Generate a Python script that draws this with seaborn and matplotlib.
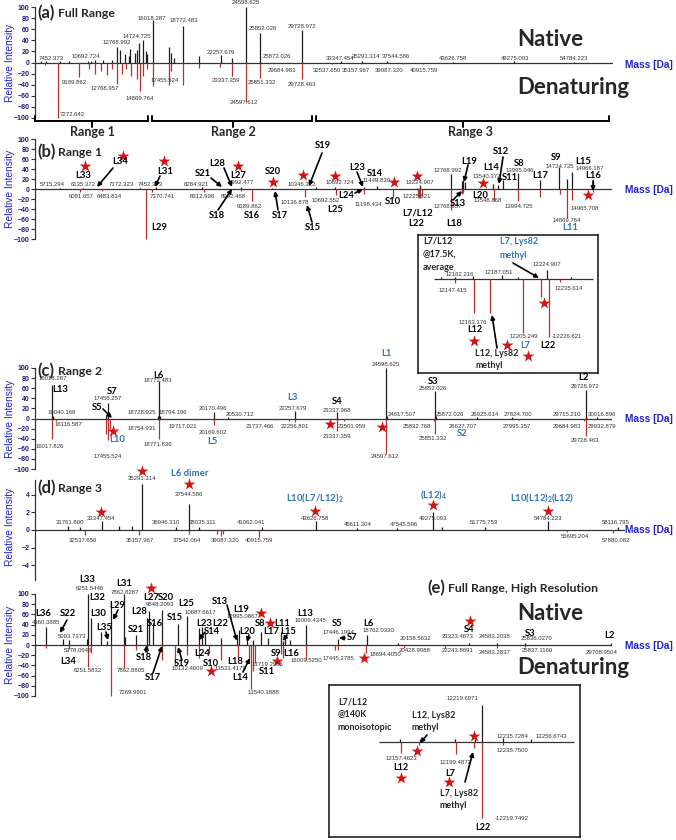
import matplotlib
matplotlib.use("Agg")
import matplotlib.pyplot as plt
import seaborn as sns

W, H = 676, 840

# ---------------- peak data (mass in Da, relative intensity) ----------------
# (a) full range
a_nat_mass = [5715, 6135, 7452, 8285, 9993, 10346, 10692, 11449, 12225, 12740, 13000, 13460, 13770,
              13940, 14400, 14560, 14724, 15110, 15360, 15480, 16018, 17456, 17660, 18000, 18772,
              20284, 22257, 23338, 24598, 25852, 25872, 29728, 33347, 35291, 37544, 43626, 49275, 54784]
a_nat_int = [2, 2, 3, 2, 3, 3, 4, 4, 4, 28, 22, 15, 12, 25, 17, 22, 35, 40, 20, 15, 76, 28, 18, 8,
             66, 12, 14, 8, 100, 53, 3, 59, 2, 3, 2, 1.5, 2, 1.5]
a_den_mass = [6082, 7272, 9190, 10160, 10683, 11205, 11758, 12220, 12740, 13140, 13540, 13970, 14523,
              14870, 15077, 15446, 16018, 17455, 17670, 18772, 20284, 22220, 23337, 24598, 25851,
              29728, 32537, 35158, 39087, 40916]
a_den_int = [-4, -100, -27, -12, -20, -15, -22, -12, -38, -20, -12, -25, -30, -52, -25, -12, -42, -40,
             -15, -40, -10, -8, -25, -72, -28, -30, -2, -2, -2, -2]

# (b) range 1
b_nat_mass = [5715, 6135, 7172, 7452, 8285, 8992, 9550, 10346, 10692, 11198, 11449, 12162, 12225,
              12769, 12970, 13000, 13030, 13541, 13632, 13722, 13995, 14384, 14725, 14876, 14966, 15346]
b_nat_int = [3, 3, 3, 4, 4, 4, 3, 4, 4, 4, 7, 3, 8, 30, 16, 18, 15, 10, 8, 18, 32, 18, 45, 20, 35, 18]
b_den_mass = [6082, 6484, 7272, 7371, 8313, 8990, 9190, 10137, 10693, 11198, 11736, 12182, 12205,
              12226, 12254, 12769, 12970, 13000, 13549, 13995, 14384, 14745, 14870, 14966, 15346]
b_den_int = [-5, -3, -100, -5, -5, -4, -24, -15, -12, -10, -17, -15, -18, -18, -14, -42, -10, -8, -24,
             -24, -15, -10, -58, -22, -5]
b_star_mass = [6171, 6857, 7597, 8933, 9564, 10106, 10683, 11748, 12164, 13355, 15250]
b_star_int = [46, 66, 56, 46, 14, 28, 26, 14, 26, 12, -12]

# (b) inset, L7/L12 at 17.5K
bi_nat_mass = [12135, 12147, 12162, 12187, 12200, 12225, 12245]
bi_nat_int = [2, 2, 3, 4, 2, 9, 2]
bi_den_mass = [12147, 12163, 12177, 12205, 12220, 12227, 12236]
bi_den_int = [-4, -34, -34, -54, -18, -58, -3]
bi_star_mass = [12163, 12191, 12209, 12222]
bi_star_int = [-62, -66, -77, -24]

# (c) range 2
c_nat_mass = [16018, 16040, 17400, 17456, 18729, 18772, 18794, 20170, 20531, 22258, 23338, 24598,
              24618, 25852, 25872, 26926, 27825, 29715, 29729, 30017]
c_nat_int = [67, 4, 6, 30, 4, 74, 4, 12, 3, 14, 12, 100, 4, 54, 4, 2, 2, 3, 56, 3]
c_den_mass = [16018, 16117, 17400, 17456, 17520, 18755, 18772, 19717, 20170, 21737, 22100, 22257,
              23337, 23502, 24598, 25833, 25851, 26628, 27995, 29685, 29728, 29933]
c_den_int = [-40, -4, -30, -43, -20, -4, -40, -3, -13, -3, -5, -6, -24, -4, -70, -4, -30, -3, -3,
             -4, -34, -3]
c_star_mass = [17584, 23154, 24489]
c_star_int = [-24, -10, -16]

# (d) range 3
d_nat_mass = [31762, 32300, 33347, 34200, 34800, 35291, 36946, 37545, 38035, 41062, 43627, 45611,
              47546, 49275, 49700, 51776, 54784, 58117]
d_nat_int = [0.4, 0.3, 1.0, 0.4, 0.5, 5.3, 0.3, 3.0, 0.3, 0.3, 1.0, 0.2, 0.2, 2.1, 0.3, 0.3, 1.0, 0.3]
d_den_mass = [32538, 35158, 37542, 38900, 39087, 39200, 40916, 55695, 57880]
d_den_int = [-0.6, -0.6, -0.4, -0.4, -0.7, -0.5, -0.8, -0.2, -0.3]
d_star_mass = [35291, 37547, 33323, 43595, 49259, 54779]
d_star_int = [6.7, 5.3, 2.1, 2.2, 2.9, 2.2]

# (e) full range, high resolution
e_nat_mass = [4360, 5094, 5385, 6206, 6252, 6359, 6821, 7077, 7270, 7863, 7898, 8378, 8872, 8975,
              9168, 9548, 10263, 10688, 11233, 11368, 11489, 12193, 12939, 12995, 13387, 13657,
              14002, 14331, 14900, 15003, 15079, 15303, 16009, 17446, 18762, 20159, 23323, 24583,
              25836, 29709]
e_nat_int = [36, 11, 10, 12, 100, 53, 25, 8, 85, 100, 15, 20, 53, 66, 43, 68, 41, 56, 33, 36, 23, 13,
             16, 30, 13, 10, 26, 13, 26, 8, 12, 10, 39, 12, 20, 3, 3, 4, 3, 3]
e_den_mass = [4338, 5378, 6252, 6359, 7270, 7863, 8378, 8872, 9548, 10132, 10695, 11233, 11683,
              12193, 12983, 13477, 13540, 13657, 13719, 14900, 15003, 16010, 17323, 17445, 18694,
              20429, 22244, 24583, 25837]
e_den_int = [-5, -8, -43, -15, -100, -45, -10, -18, -30, -37, -20, -25, -15, -30, -28, -30, -86, -50,
             -35, -18, -25, -30, -10, -10, -15, -5, -5, -5, -3]
e_star_mass = [9065, 14002, 14406, 14720, 11758, 18625, 23382]
e_star_int = [112, 63, 43, -31, -51, -25, 47]

# (e) inset, L7/L12 at 140K
ei_nat_mass = [12157, 12172, 12199, 12214, 12219.7, 12236, 12257]
ei_nat_int = [3, 3, 3, 3, 37, 4, 3]
ei_den_mass = [12157.5, 12171.5, 12199.5, 12213.5, 12219.75, 12235.75]
ei_den_int = [-11, -3, -12, -6, -76, -3]
ei_star_mass = [12169.8, 12213.6, 12157.5, 12194.4]
ei_star_int = [-9, 6, -36, -40]

# ---------------- peak labels (text, x px, y px) ----------------
a_mass_labels = [
    ("7452.373", 51, 58), ("10692.724", 86, 57), ("12768.992", 117, 43), ("14724.725", 137, 36),
    ("16018.287", 152, 19), ("18772.483", 184, 21), ("22257.679", 221, 52), ("24598.625", 246, 3),
    ("25852.026", 263, 29), ("25872.026", 277, 57), ("29728.972", 302, 26), ("33347.454", 340, 58),
    ("35291.314", 366, 56), ("37544.586", 396, 56), ("43626.758", 453, 58), ("49275.093", 515, 58),
    ("54784.223", 574, 58),
    ("7272.642", 72, 115), ("9189.862", 74, 82), ("12768.957", 105, 88), ("14869.764", 140, 98),
    ("17455.524", 165, 81), ("23337.359", 226, 81), ("24597.612", 244, 102), ("25851.332", 262, 83),
    ("29684.983", 282, 70), ("29728.463", 302, 85), ("32537.650", 327, 70), ("35157.967", 356, 71),
    ("39087.320", 389, 71), ("40915.759", 424, 71)]

b_mass_labels = [
    ("5715.294", 52, 185), ("6135.372", 83, 185), ("7172.323", 121, 185), ("7452.373", 150, 185),
    ("8284.921", 196, 185), ("8992.477", 241, 183), ("10346.322", 302, 185), ("10692.724", 340, 183),
    ("6081.657", 81, 196), ("6483.834", 109, 196), ("7370.741", 162, 197), ("8312.998", 202, 196),
    ("8992.468", 233, 196), ("9189.862", 249, 206), ("10136.878", 295, 202), ("10692.552", 326, 201),
    ("11449.839", 377, 180), ("11198.434", 368, 205), ("12224.907", 420, 183), ("12225.621", 417, 196),
    ("12768.992", 448, 171), ("12768.957", 448, 206), ("13540.372", 487, 177), ("13548.868", 488, 200),
    ("13995.046", 520, 171), ("13994.725", 519, 207), ("14724.725", 560, 166), ("14966.187", 590, 168),
    ("14869.764", 567, 221), ("14965.708", 585, 208)]

bi_mass_labels = [
    ("12162.216", 460, 274), ("12187.051", 499, 272), ("12224.907", 547, 264), ("12147.415", 453, 291),
    ("12235.614", 569, 288), ("12163.176", 473, 322), ("12205.249", 524, 336), ("-12226.621", 567, 337)]

c_mass_labels = [
    ("16018.287", 53, 379), ("16040.168", 62, 412), ("16116.587", 68, 425), ("16017.826", 50, 447),
    ("17456.257", 108, 399), ("17455.524", 108, 457), ("18772.483", 158, 381), ("18728.925", 142, 412),
    ("18794.196", 173, 412), ("18754.931", 142, 428), ("18771.836", 158, 445), ("19717.021", 183, 427),
    ("20170.496", 213, 408), ("20169.602", 213, 432), ("20530.712", 240, 414), ("21737.466", 260, 427),
    ("22257.679", 293, 409), ("22256.801", 295, 427), ("23337.968", 337, 411), ("23501.959", 352, 426),
    ("23337.359", 337, 436), ("24598.625", 386, 364), ("24617.507", 402, 415), ("24597.612", 385, 457),
    ("25852.026", 433, 389), ("25872.026", 450, 414), ("25832.768", 417, 427), ("25851.332", 433, 439),
    ("26925.614", 485, 415), ("26627.707", 463, 426), ("27824.700", 518, 415), ("27995.357", 517, 426),
    ("29715.210", 567, 415), ("29684.983", 567, 427), ("29728.972", 585, 387), ("30016.896", 602, 415),
    ("29932.879", 602, 427), ("29728.463", 585, 441)]

d_mass_labels = [
    ("35291.314", 142, 478), ("37544.586", 189, 494), ("31761.800", 70, 522), ("33347.454", 101, 519),
    ("36946.310", 166, 523), ("38035.111", 203, 522), ("41062.041", 251, 523), ("43626.758", 315, 518),
    ("45611.304", 358, 524), ("47545.596", 404, 524), ("49275.093", 433, 519), ("51775.753", 484, 523),
    ("54784.223", 548, 518), ("58116.795", 616, 522), ("32537.650", 83, 540), ("35157.967", 140, 540),
    ("37542.064", 187, 540), ("39087.320", 225, 541), ("40915.759", 259, 541), ("55695.204", 575, 536),
    ("57880.082", 616, 541)]

e_mass_labels = [
    ("4360.3885", 46, 623), ("5093.7373", 72, 636), ("5378.0648", 78, 651), ("6251.5446", 90, 589),
    ("6251.5832", 88, 671), ("7862.8287", 125, 592), ("7862.8805", 131, 670), ("7269.9901", 133, 692),
    ("9548.2093", 160, 604), ("10132.4609", 187, 669), ("10687.6617", 200, 612), ("12995.0867", 242, 617),
    ("13531.4179", 230, 669), ("13719.2966", 267, 665), ("13540.3888", 263, 692), ("16009.4345", 310, 621),
    ("16009.5250", 306, 661), ("17446.1994", 338, 632), ("17445.2785", 338, 658), ("18762.0330", 378, 631),
    ("18694.4050", 385, 655), ("20158.5632", 415, 639), ("20428.9988", 415, 650), ("23323.4673", 458, 637),
    ("22243.8691", 458, 651), ("24583.2038", 495, 637), ("24583.2837", 495, 652), ("25836.0270", 537, 639),
    ("25837.1160", 537, 650), ("29708.9504", 602, 653)]

ei_mass_labels = [
    ("12219.6971", 462, 698), ("12235.7284", 512, 736), ("12256.6743", 551, 736), ("12235.7500", 512, 751),
    ("12157.4623", 401, 759), ("12199.4872", 456, 763), ("-12219.7492", 512, 818)]

# ---------------- protein assignments ----------------
b_tags = [("L33", 83, 175), ("L34", 120, 162), ("L31", 165, 171), ("L29", 159, 228), ("S21", 203, 173),
          ("L28", 217, 164), ("L27", 238, 176), ("S18", 217, 216), ("S16", 252, 216), ("S20", 273, 172),
          ("S17", 280, 216), ("S19", 323, 146), ("S15", 313, 228), ("L25", 335, 210), ("L23", 357, 167),
          ("L24", 346, 195), ("S14", 375, 174), ("S10", 393, 202), ("L7/L12", 418, 213), ("L22", 416, 223),
          ("L18", 454, 224), ("S13", 458, 204), ("L19", 469, 161), ("L14", 491, 168), ("L20", 480, 196),
          ("S12", 501, 152), ("S11", 510, 177), ("S8", 519, 164), ("L17", 540, 176), ("S9", 556, 157),
          ("L15", 583, 162), ("L16", 593, 176)]
b_blue_tags = [("L11", 570, 227)]
b_arrows = [(113, 168, 97, 187), (160, 176, 155, 187), (211, 178, 222, 187), (224, 168, 232, 187),
            (218, 210, 232, 189), (278, 210, 275, 191), (322, 153, 309, 186), (312, 222, 307, 205),
            (357, 172, 363, 187), (355, 193, 363, 189), (453, 200, 462, 191), (468, 165, 464, 182),
            (503, 157, 499, 184), (593, 181, 593, 191), (513, 263, 539, 278), (497, 348, 492, 315)]

c_tags = [("L13", 60, 389), ("S7", 112, 392), ("S5", 97, 408), ("L6", 158, 375), ("S4", 337, 401),
          ("S3", 433, 382), ("L2", 583, 378)]
c_blue_tags = [("L10", 117, 440), ("L5", 212, 441), ("L3", 292, 398), ("L1", 386, 353), ("S2", 462, 434)]
c_arrows = [(103, 409, 112, 418)]

d_blue_tags = [("L6 dimer", 190, 474), ("L10(L7/L12)$_2$", 315, 498), ("(L12)$_4$", 433, 495),
               ("L10(L12)$_2$(L12)", 542, 498)]

e_tags = [("L36", 43, 614), ("S22", 68, 614), ("L34", 68, 662), ("L33", 87, 580), ("L32", 97, 597),
          ("L30", 98, 614), ("L35", 104, 627), ("L29", 117, 605), ("L31", 124, 583), ("L27", 151, 598),
          ("S20", 166, 598), ("L28", 139, 612), ("S16", 155, 623), ("S21", 136, 629), ("L25", 186, 603),
          ("S15", 175, 617), ("S13", 220, 601), ("L19", 241, 609), ("L23", 204, 623), ("L22", 220, 623),
          ("S14", 212, 632), ("L20", 247, 631), ("S8", 260, 623), ("L11", 282, 623), ("L17", 271, 632),
          ("L15", 288, 632), ("L13", 305, 614), ("S18", 144, 657), ("S17", 153, 678), ("S19", 182, 664),
          ("L24", 202, 654), ("S10", 211, 663), ("L18", 235, 661), ("L14", 240, 677), ("S11", 267, 672),
          ("S9", 276, 653), ("L16", 291, 654), ("S5", 337, 623), ("S7", 352, 637), ("L6", 368, 623),
          ("S4", 469, 630), ("S3", 530, 633), ("L2", 609, 635)]
e_arrows = [(67, 620, 60, 633), (106, 632, 108, 640), (118, 610, 113, 620), (227, 605, 237, 641),
            (205, 632, 199, 640), (249, 635, 247, 642), (287, 635, 283, 641), (146, 652, 147, 645),
            (153, 673, 162, 646), (182, 660, 178, 647), (243, 672, 250, 658), (345, 638, 339, 638),
            (427, 735, 420, 743), (465, 782, 473, 752)]

NAT = "#1e1e1e"
DEN = "#b3312f"
STAR = "#d11414"
BLUE_TAG = "#2e75b6"
AXIS_BLUE = "#2323c8"
TICK_BLUE = "#1f1f7a"
LABEL_FONT = ["Lato", "DejaVu Sans"]
MASS_FONT = ["Liberation Sans", "DejaVu Sans"]

sns.set_theme(style="white")
plt.rcParams["font.family"] = MASS_FONT
plt.rcParams["mathtext.default"] = "regular"

fig = plt.figure(figsize=(W / 100, H / 100), dpi=100)


def px_axes(x0, x1, y0, y1, **kw):
    # axes placed by pixel box (y measured from the top)
    return fig.add_axes([x0 / W, 1 - y1 / H, (x1 - x0) / W, (y1 - y0) / H], **kw)


def draw_peaks(ax, nat_m, nat_i, den_m, den_i, star_m, star_i):
    ax.vlines(nat_m, 0, nat_i, color=NAT, lw=0.9, clip_on=False)
    ax.vlines(den_m, 0, den_i, color=DEN, lw=0.9, clip_on=False)
    sns.scatterplot(x=star_m, y=star_i, marker="*", s=80, color=STAR, linewidth=0,
                    ax=ax, clip_on=False, zorder=6, legend=False)


def spectrum(box, xlim, ylim, yticks, nat_m, nat_i, den_m, den_i, star_m, star_i):
    ax = px_axes(*box)
    ax.patch.set_alpha(0)
    ax.set_xlim(xlim)
    ax.set_ylim(ylim)
    ax.axhline(0, color="#333333", lw=0.9)
    draw_peaks(ax, nat_m, nat_i, den_m, den_i, star_m, star_i)
    for s in ["top", "right", "bottom"]:
        ax.spines[s].set_visible(False)
    ax.spines["left"].set_color("#333333")
    ax.spines["left"].set_linewidth(0.9)
    ax.set_xticks([])
    ax.set_yticks(yticks)
    ax.tick_params(axis="y", left=True, direction="out", length=3, width=0.8,
                   color="#333333", labelsize=5, labelcolor=TICK_BLUE, pad=1)
    for lab in ax.get_yticklabels():
        lab.set_fontweight("bold")
    ax.set_xlabel("")
    ax.set_ylabel("")
    return ax


def inset(box, xlim, ylim, span, nat_m, nat_i, den_m, den_i, star_m, star_i):
    ax = px_axes(*box, zorder=5)
    ax.set_facecolor("white")
    ax.set_xlim(xlim)
    ax.set_ylim(ylim)
    ax.hlines(0, span[0], span[1], color="#333333", lw=0.9)
    draw_peaks(ax, nat_m, nat_i, den_m, den_i, star_m, star_i)
    ax.set_xticks([])
    ax.set_yticks([])
    for s in ax.spines.values():
        s.set_visible(True)
        s.set_color("#222222")
        s.set_linewidth(1.2)
    return ax


rng100 = list(range(-100, 101, 20))
spectrum((35, 613, 7, 118), (5152, 58416), (-100, 100), rng100,
         a_nat_mass, a_nat_int, a_den_mass, a_den_int, [], [])
spectrum((35, 612, 139, 239), (5268, 15683), (-100, 100), rng100,
         b_nat_mass, b_nat_int, b_den_mass, b_den_int, b_star_mass, b_star_int)
spectrum((35, 612, 368, 469), (15582, 30394), (-100, 100), rng100,
         c_nat_mass, c_nat_int, c_den_mass, c_den_int, c_star_mass, c_star_int)
spectrum((35, 625, 480, 580), (30155, 58475), (-5.7, 5.7), [-4, -2, 0, 2, 4],
         d_nat_mass, d_nat_int, d_den_mass, d_den_int, d_star_mass, d_star_int)
spectrum((35, 612, 594, 696), (3859, 29753), (-100, 100), rng100,
         e_nat_mass, e_nat_int, e_den_mass, e_den_int, e_star_mass, e_star_int)

inset((418, 598, 235, 373), (12115.8, 12268.1), (-94, 44), (12129.3, 12263.9),
      bi_nat_mass, bi_nat_int, bi_den_mass, bi_den_int, bi_star_mass, bi_star_int)
inset((329, 580, 685, 837), (12102.2, 12295.0), (-95, 57), (12140.6, 12290.4),
      ei_nat_mass, ei_nat_int, ei_den_mass, ei_den_int, ei_star_mass, ei_star_int)

# overlay in pixel coordinates for all annotation text
ov = fig.add_axes([0, 0, 1, 1], zorder=20)
ov.set_xlim(0, W)
ov.set_ylim(H, 0)
ov.set_axis_off()


def mass_labels(items):
    for t, x, y in items:
        ov.text(x, y, t, fontsize=4.3, color="#333333", ha="center", va="center", family=MASS_FONT)


def tags(items, color="black", size=6.8):
    for t, x, y in items:
        ov.text(x, y, t, fontsize=size, fontweight="bold", color=color, ha="center", va="center",
                family=LABEL_FONT)


def arrows(items):
    for x0, y0, x1, y1 in items:
        ov.annotate("", xy=(x1, y1), xytext=(x0, y0),
                    arrowprops=dict(arrowstyle="-|>", color="black", lw=1.2, mutation_scale=6,
                                    shrinkA=0, shrinkB=0))


for lab_list in [a_mass_labels, b_mass_labels, bi_mass_labels, c_mass_labels, d_mass_labels,
                 e_mass_labels, ei_mass_labels]:
    mass_labels(lab_list)
tags(b_tags)
tags(c_tags)
tags(e_tags)
tags(b_blue_tags, BLUE_TAG)
tags(c_blue_tags, BLUE_TAG)
tags(d_blue_tags, BLUE_TAG)
arrows(b_arrows)
arrows(c_arrows)
arrows(e_arrows)

# inset texts
for t, x, y in [("L7/L12", 423, 241), ("@17.5K,", 423, 254), ("average", 423, 268),
                ("L12, Lys82", 475, 354), ("methyl", 475, 366),
                ("L7/L12", 338, 702), ("@140K", 338, 714), ("monoisotopic", 338, 727),
                ("L12, Lys82", 412, 715), ("methyl", 412, 728),
                ("L7, Lys82", 440, 793), ("methyl", 440, 806)]:
    ov.text(x, y, t, fontsize=6.5, fontweight="bold", ha="left", va="center", family=LABEL_FONT)
for t, x, y in [("L7, Lys82", 500, 242), ("methyl", 500, 255)]:
    ov.text(x, y, t, fontsize=6.5, fontweight="bold", color=BLUE_TAG, ha="left", va="center",
            family=LABEL_FONT)
tags([("L12", 475, 330), ("L22", 548, 345), ("L12", 401, 767), ("L7", 450, 773), ("L22", 483, 828)],
     size=6.5)
tags([("L7", 525, 345)], BLUE_TAG, size=6.5)

# panel titles
for tag, name, x, y in [("(a)", "Full Range", 37, 13), ("(b)", "Range 1", 37, 152),
                        ("(c)", "Range 2", 37, 371), ("(d)", "Range 3", 37, 488),
                        ("(e)", "Full Range, High Resolution", 427, 588)]:
    ov.text(x, y, tag, fontsize=12, fontweight="bold", ha="left", va="center", family=LABEL_FONT)
    ov.text(x + 21, y + 0.5, name, fontsize=8.8, fontweight="bold", ha="left", va="center",
            family=LABEL_FONT)

for y_top, y_bot in [(40, 88), (613, 668)]:
    ov.text(517, y_top, "Native", fontsize=16, fontweight="bold", ha="left", va="center",
            family=LABEL_FONT)
    ov.text(517, y_bot, "Denaturing", fontsize=16, fontweight="bold", ha="left", va="center",
            family=LABEL_FONT)

for yc in [63, 189, 419, 527, 645]:
    ov.text(10, yc, "Relative Intensity", fontsize=7.4, color=AXIS_BLUE, rotation=90,
            ha="center", va="center", family=MASS_FONT)
for yc in [65, 190, 419, 530, 646]:
    ov.text(649, yc, "Mass [Da]", fontsize=7.3, fontweight="bold", color=AXIS_BLUE,
            ha="center", va="center", family=MASS_FONT)

# range brackets under panel (a)
for x0, xm, x1, name in [(35, 92, 148, "Range 1"), (152, 233, 312, "Range 2"),
                         (316, 463, 609, "Range 3")]:
    ov.plot([x0, x0, x1, x1], [116, 121, 121, 116], color="black", lw=1.4, solid_joinstyle="miter")
    ov.plot([xm, xm], [121, 127], color="black", lw=1.4)
    ov.text(xm + (7 if name == "Range 3" else 0), 132, name, fontsize=9, fontweight="bold",
            ha="center", va="center", family=LABEL_FONT)

fig.savefig("out.png", dpi=100)
